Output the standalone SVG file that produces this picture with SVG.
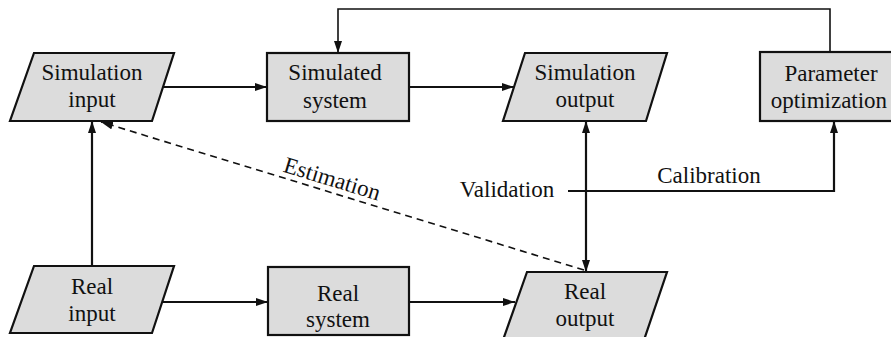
<svg xmlns="http://www.w3.org/2000/svg" width="891" height="337" viewBox="0 0 891 337">
  <style>
    .shape { fill: #dcdcdc; stroke: #111; stroke-width: 2.2; }
    .label { font-family: "Liberation Serif", "DejaVu Serif", serif; font-size: 23px; fill: #111; text-anchor: middle; }
    .edge { fill: none; stroke: #111; stroke-width: 2.2; }
    .thin { fill: none; stroke: #111; stroke-width: 1.6; }
    .dash { fill: none; stroke: #111; stroke-width: 1.6; stroke-dasharray: 7 5; }
  </style>
  <defs>
    <marker id="arrow" viewBox="0 0 12 8" refX="12" refY="4" markerWidth="12" markerHeight="8" markerUnits="userSpaceOnUse" orient="auto-start-reverse">
      <path d="M0,0 L12,4 L0,8 Z" fill="#111"/>
    </marker>
  </defs>
  <rect width="891" height="337" fill="#fff"/>

  <!-- connectors -->
  <g id="connectors">
    <line class="edge" x1="163" y1="87" x2="267" y2="87" marker-end="url(#arrow)"/>
    <line class="edge" x1="409" y1="87" x2="514" y2="87" marker-end="url(#arrow)"/>
    <line class="edge" x1="163" y1="302" x2="268" y2="302" marker-end="url(#arrow)"/>
    <line class="edge" x1="409" y1="302" x2="515" y2="302" marker-end="url(#arrow)"/>
    <line class="edge" x1="92" y1="266" x2="92" y2="121" marker-end="url(#arrow)"/>
    <line class="edge" x1="586" y1="121" x2="586" y2="272" marker-start="url(#arrow)" marker-end="url(#arrow)"/>
    <polyline class="edge" points="568,191 834,191 834,121" marker-end="url(#arrow)"/>
    <polyline class="thin" points="830,52 830,9 338,9 338,53" marker-end="url(#arrow)"/>
    <line class="dash" x1="584" y1="270" x2="101" y2="122" marker-end="url(#arrow)"/>
    <text class="label" transform="translate(330,186) rotate(17)">Estimation</text>
    <text class="label" x="507" y="197">Validation</text>
    <text class="label" x="709" y="183">Calibration</text>
  </g>

  <g id="simulation-input">
    <polygon class="shape" points="34,53 174,53 152,121 10,121"/>
    <text class="label" x="92" y="80">Simulation</text>
    <text class="label" x="92" y="107">input</text>
  </g>

  <g id="simulated-system">
    <rect class="shape" x="267" y="53" width="142" height="68"/>
    <text class="label" x="335" y="80">Simulated</text>
    <text class="label" x="335" y="108">system</text>
  </g>

  <g id="simulation-output">
    <polygon class="shape" points="525,53 667,53 646,121 503,121"/>
    <text class="label" x="585" y="80">Simulation</text>
    <text class="label" x="585" y="107">output</text>
  </g>

  <g id="parameter-optimization">
    <rect class="shape" x="760" y="52" width="142" height="69"/>
    <text class="label" x="831" y="81">Parameter</text>
    <text class="label" x="829" y="108">optimization</text>
  </g>

  <g id="real-input">
    <polygon class="shape" points="34,266 174,266 152,333 10,333"/>
    <text class="label" x="92" y="294">Real</text>
    <text class="label" x="92" y="321">input</text>
  </g>

  <g id="real-system">
    <rect class="shape" x="268" y="267" width="141" height="68"/>
    <text class="label" x="338" y="301">Real</text>
    <text class="label" x="338" y="327">system</text>
  </g>

  <g id="real-output">
    <polygon class="shape" points="527,272 667,272 644,340 503,340"/>
    <text class="label" x="585" y="299">Real</text>
    <text class="label" x="585" y="326">output</text>
  </g>
</svg>
